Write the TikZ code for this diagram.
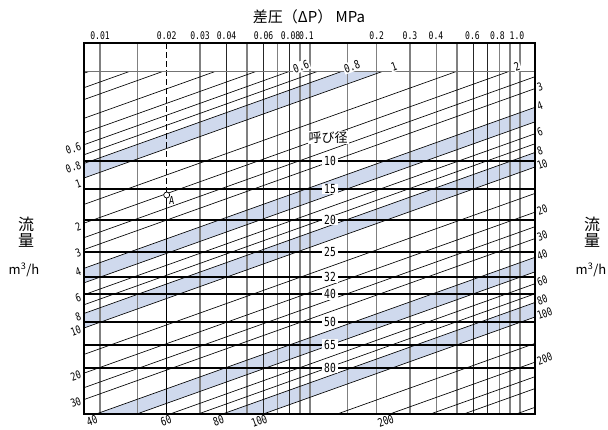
\documentclass[tikz,border=0pt]{standalone}
\usepackage{fontspec}
\usepackage{graphicx}
\setmonofont{DejaVu Sans Mono}
\newfontfamily\jpfont{Noto Sans CJK JP}
\definecolor{bandblue}{RGB}{207,217,237}
\newcommand{\nt}[2][10.5]{\scalebox{0.77}[1]{\ttfamily\fontsize{#1}{#1}\selectfont #2}}

\begin{document}
\begin{tikzpicture}[x=1pt, y=-1pt,
    gridline/.style={black!50, line width=1.1pt},
    darkline/.style={black!85, line width=1pt},
    flowline/.style={black, line width=0.65pt},
    sizeline/.style={black, line width=2.1pt},
    qlabel/.style={inner sep=0pt, rotate=19.6}]
  \useasboundingbox (0,0) rectangle (608,429);

  % blue bands between two flow lines
  \begin{scope}
    \clip (84,71.5) rectangle (535,414);
    \foreach \qa/\qb in {0.8/1, 4/5, 8/10, 40/50, 80/100} {
      \pgfmathsetmacro\ya{178+150*log10(\qa)}
      \pgfmathsetmacro\yb{178+150*log10(\qb)}
      \fill [bandblue] (84,\ya) -- (535,\ya-161) -- (535,\yb-161) -- (84,\yb) -- cycle;
    }
  \end{scope}

  % pressure grid
  \foreach \x in {100,137.5,200,247,277.5,300,310,347.5,376.7,410,436.5,457,499.5,510,520}
    \draw [gridline] (\x,43) -- (\x,414);
  \foreach \x in {226.5,263.5,289.5,473.5,487.5}
    \draw [darkline] (\x,43) -- (\x,414);
  \coordinate (ptA) at (166.7,195);
  \draw [black, line width=0.9pt, dash pattern=on 6pt off 3pt] (166.7,43) -- (ptA);
  \draw [black, line width=0.9pt] (ptA) -- (166.7,414);

  % flow lines
  \begin{scope}
    \clip (84,71.5) rectangle (535,414);
    \foreach \q in {0.2,0.25,0.3,0.4,0.5,0.6,0.7,0.8,1,1.5,2,2.5,3,4,5,6,7,8,10,15,20,25,30,40,50,60,70,80,100,150,200,250,300,400} {
      \pgfmathsetmacro\ya{178+150*log10(\q)}
      \draw [flowline] (84,\ya) -- (535,\ya-161);
    }
  \end{scope}
  \draw [black!55, line width=0.9pt] (84,71.5) -- (535,71.5);

  % nominal sizes
  \foreach \y/\n in {160.7/10, 189.3/15, 220/20, 252.3/25, 277.3/32, 294.3/40, 321.7/50, 344.7/65, 367.7/80} {
    \draw [sizeline] (84,\y) -- (535,\y);
    \node [fill=white, inner xsep=2.5pt, inner ysep=0.5pt] (size\n) at (330,\y) {\nt[12.5]{\n}};
  }
  \node [fill=white, inner sep=1pt, font=\jpfont\fontsize{13}{13}\selectfont] (sizetitle) at (328,137.5) {呼び径};

  \draw [line width=1.9pt] (84,43) rectangle (535,414);

  % point A
  \draw [black, line width=0.7pt, fill=white] (ptA) circle [radius=3pt];
  \node [anchor=north west, inner sep=0.5pt] (labelA) at (168.5,196) {\nt[11]{A}};

  % pressure labels
  \foreach \x/\t [count=\i] in {100/0.01, 166.7/0.02, 200/0.03, 226.5/0.04, 263.5/0.06, 290.5/0.08, 306.5/0.1,
      376.7/0.2, 410/0.3, 436/0.4, 472.5/0.6, 497.5/0.8, 517/1.0}
    \node (tick\i) at (\x,35.5) {\nt{\t}};
  \node [font=\jpfont\fontsize{15}{16}\selectfont] (title) at (309,16.5) {差圧（ΔP） MPa};

  % flow labels
  \foreach \q/\dy in {0.6/0,0.8/0,1/3.5,2/1.5,3/1.5,4/1.5,6/1,8/1,10/0,20/0,30/0} {
    \pgfmathsetmacro\ya{178+150*log10(\q)+\dy}
    \node [qlabel, anchor=east, inner xsep=3.5pt] at (84,\ya) {\nt[11]{\q}};
  }
  \foreach \q in {3,4,6,8,10,20,30,40,60,80,100,200} {
    \pgfmathsetmacro\ya{178+150*log10(\q)-161}
    \node [qlabel, anchor=west, inner xsep=2.5pt] at (535,\ya) {\nt[11]{\q}};
  }
  \foreach \q in {40,60,80,100,200} {
    \pgfmathsetmacro\xb{84+(178+150*log10(\q)-414)*2.8012-4}
    \node [qlabel] at (\xb,421) {\nt[11.5]{\q}};
  }
  \foreach \x/\q in {301/0.6, 352/0.8, 394/1, 517/2}
    \node [qlabel, fill=white, inner sep=1pt] at (\x,66.5) {\nt[11.5]{\q}};

  % axis titles
  \node [align=center, font=\jpfont\fontsize{16}{16}\selectfont] (flowL) at (26,232.5) {流\\量};
  \node [font=\jpfont\fontsize{13}{14}\selectfont] (unitL) at (24,270) {m\textsuperscript{3}/h};
  \node [align=center, font=\jpfont\fontsize{16}{16}\selectfont] (flowR) at (592,232.5) {流\\量};
  \node [font=\jpfont\fontsize{13}{14}\selectfont] (unitR) at (591,270) {m\textsuperscript{3}/h};
\end{tikzpicture}
\end{document}
